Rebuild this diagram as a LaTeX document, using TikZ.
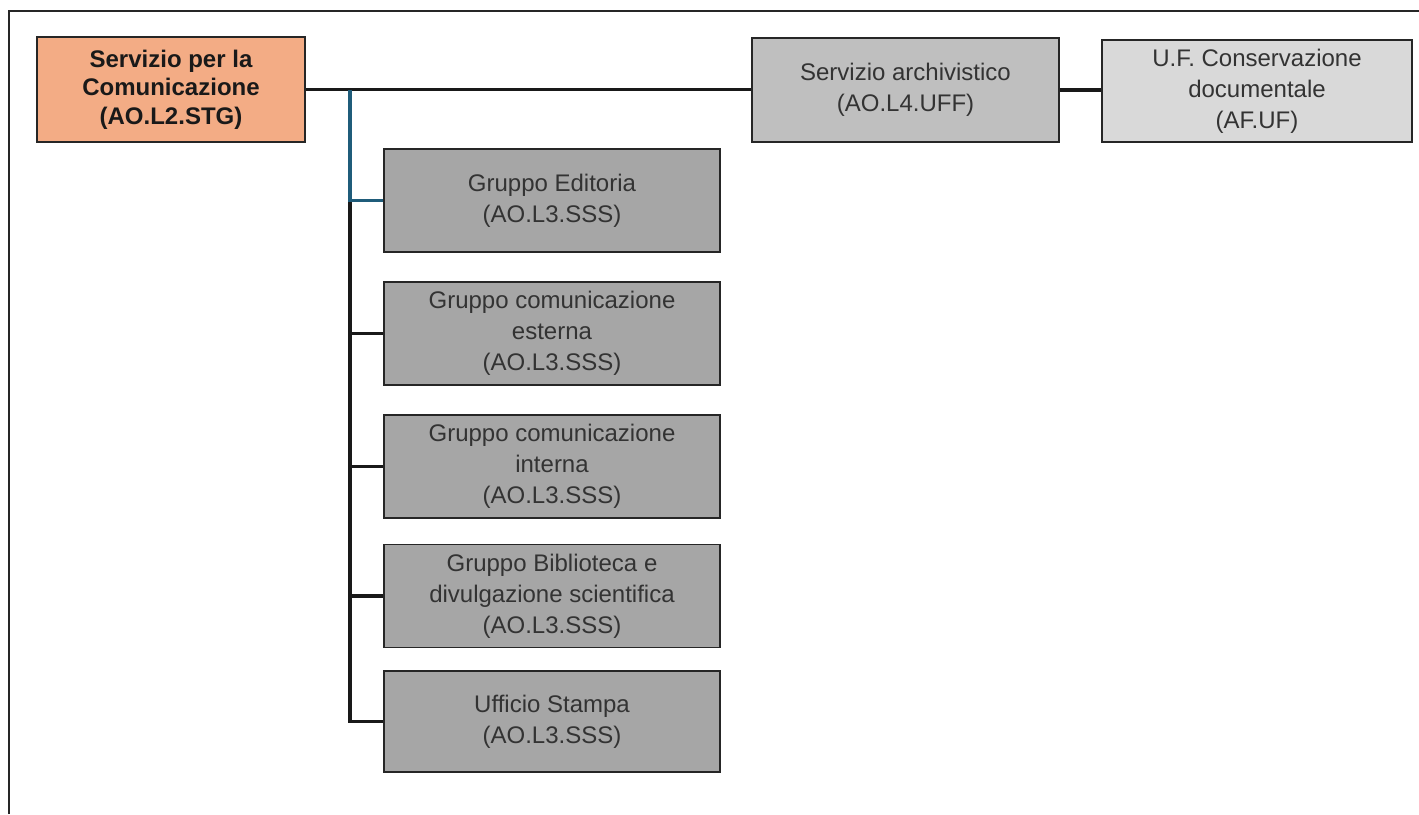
\documentclass[tikz,border=0pt]{standalone}
\usepackage{fontspec}
\setmainfont{Liberation Sans}
\definecolor{rootfill}{HTML}{F3AC85}
\definecolor{archfill}{HTML}{BFBFBF}
\definecolor{uffill}{HTML}{D9D9D9}
\definecolor{childfill}{HTML}{A6A6A6}
\definecolor{linkblue}{HTML}{1F5C7A}
\definecolor{txt}{HTML}{333333}
\begin{document}
\begin{tikzpicture}[x=1pt,y=-1pt,
  box/.style={draw=black!85,line width=1.8pt,align=center,inner sep=0pt,
    font=\fontsize{24}{31}\selectfont,text=txt},
  rootbox/.style={box,fill=rootfill,font=\fontsize{24}{28.5}\selectfont\bfseries,text=black!90,
    minimum width=268pt,minimum height=105pt},
  childbox/.style={box,fill=childfill,minimum width=336pt,minimum height=103pt},
  link/.style={line width=3.6pt,draw=black!90},
  bluelink/.style={line width=3.6pt,draw=linkblue},
  frame/.style={line width=1.6pt,draw=black!85}]
\useasboundingbox (0,0) rectangle (1419,814);
\draw[frame] (9,814) -- (9,11) -- (1419,11);

\coordinate (sp) at (350,89.5);

\node[rootbox] (root) at (171,89.5) {Servizio per la\\Comunicazione\\(AO.L2.STG)};
\node[box,fill=archfill,minimum width=307pt,minimum height=104pt] (arch) at (905.5,90)
  {Servizio archivistico\\(AO.L4.UFF)};
\node[box,fill=uffill,minimum width=310pt,minimum height=102pt] (uf) at (1257,91)
  {U.F. Conservazione\\documentale\\(AF.UF)};

\node[childbox] (ed) at (552,200.5) {Gruppo Editoria\\(AO.L3.SSS)};
\node[childbox] (es) at (552,333.5) {Gruppo comunicazione\\esterna\\(AO.L3.SSS)};
\node[childbox] (in) at (552,466.5) {Gruppo comunicazione\\interna\\(AO.L3.SSS)};
\node[childbox] (bi) at (552,596) {Gruppo Biblioteca e\\divulgazione scientifica\\(AO.L3.SSS)};
\node[childbox,minimum height=101pt] (st) at (552,721.5) {Ufficio Stampa\\(AO.L3.SSS)};

\draw[link] (root.east) -- (root.east -| arch.west);
\draw[link] (arch.east) -- (arch.east -| uf.west);
\draw[link] (sp |- ed.west) -- (sp |- st.west) -- (st.west);
\draw[link] (sp |- es.west) -- (es.west);
\draw[link] (sp |- in.west) -- (in.west);
\draw[link] (sp |- bi.west) -- (bi.west);
\draw[bluelink] (sp) |- (ed.west);
\end{tikzpicture}
\end{document}
